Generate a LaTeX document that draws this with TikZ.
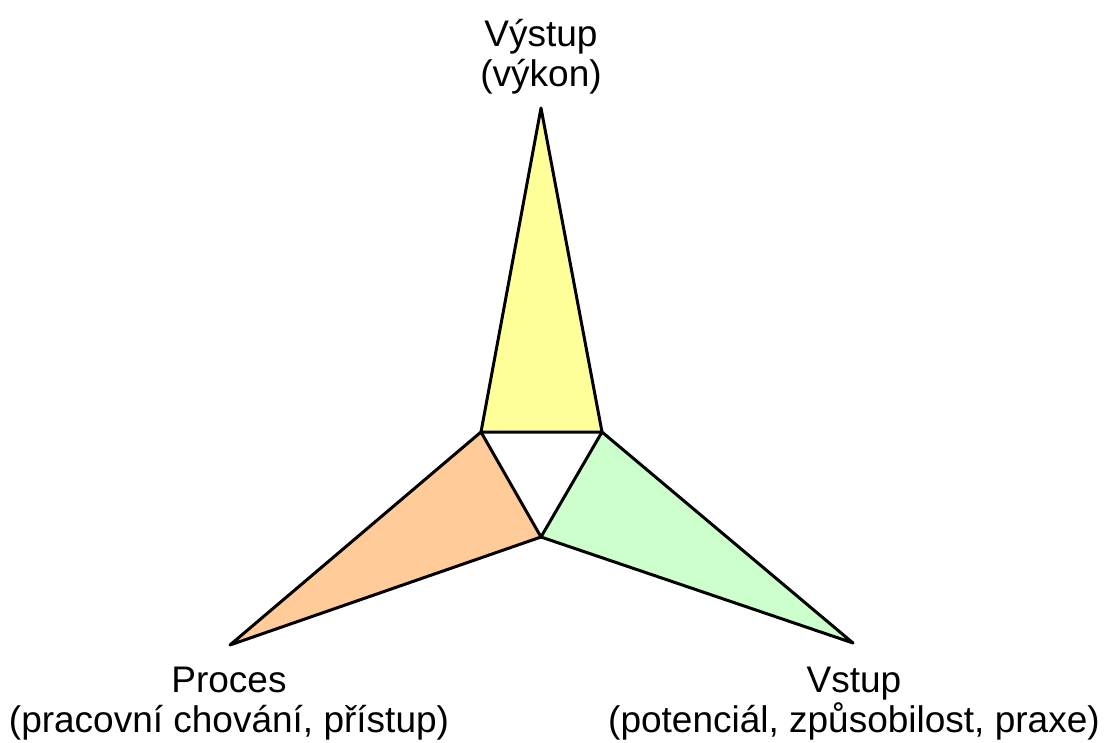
\documentclass[tikz,border=0pt]{standalone}
\usepackage{fontspec}
\setmainfont{Liberation Sans}
\begin{document}
\begin{tikzpicture}[x=1pt,y=-1pt,
  face/.style={draw=black,line width=3pt,line join=round},
  lbl/.style={align=center,font=\fontsize{37}{40}\selectfont,inner sep=0pt}]
\useasboundingbox (0,0) rectangle (1105,743);
\coordinate (top) at (541,108);
\coordinate (a) at (481,432);
\coordinate (b) at (602,432);
\coordinate (c) at (541,537);
\coordinate (l) at (230,645);
\coordinate (r) at (853,643);
\draw[face,fill={rgb,255:red,255;green,255;blue,153}] (top) -- (b) -- (a) -- cycle;
\draw[face,fill={rgb,255:red,255;green,204;blue,153}] (a) -- (c) -- (l) -- cycle;
\draw[face,fill={rgb,255:red,204;green,255;blue,204}] (b) -- (r) -- (c) -- cycle;
\node[lbl] (out) at (541,57) {Výstup\\(výkon)};
\node[lbl] (proc) at (229,704) {Proces\\(pracovní chování, přístup)};
\node[lbl] (in) at (854,704) {Vstup\\(potenciál, způsobilost, praxe)};
\end{tikzpicture}
\end{document}
